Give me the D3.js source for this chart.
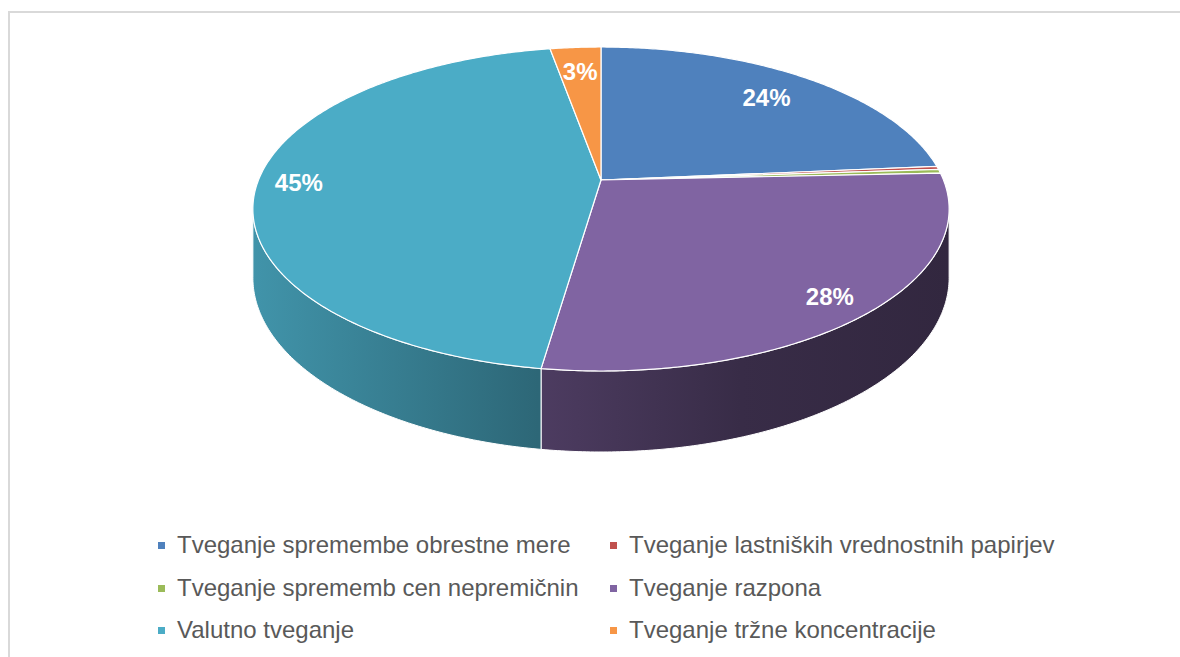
<!DOCTYPE html>
<html><head><meta charset="utf-8">
<script src="https://cdn.jsdelivr.net/npm/d3@7"></script>
<style>body{margin:0;background:#fff}svg{display:block}</style>
</head><body><svg id="c" width="1180" height="657"></svg>
<script>
const categories = ["Tveganje spremembe obrestne mere","Tveganje lastniških vrednostnih papirjev","Tveganje sprememb cen nepremičnin","Tveganje razpona","Valutno tveganje","Tveganje tržne koncentracije"];
const shares = [23.6, 0.3, 0.4, 28.0, 44.9, 2.8];
const colors = ["#4F81BD","#C0504D","#9BBB59","#8064A2","#4BACC6","#F79646"];

const svg = d3.select("#c");
svg.append("rect").attr("x",9).attr("y",12).attr("width",1200).attr("height",700)
  .attr("fill","#fff").attr("stroke","#d9d9d9").attr("stroke-width",2);

// perspective projection of a tilted disk
const cx=601, cy=180, A=342.5, B=156.8, K=0.179, D=66.5;
function proj(theta, r, drop){
  const u=r*Math.sin(theta), v=r*Math.cos(theta), w=1+K*v;
  return [cx + A*u/w, cy - B*v/w + (drop ? D/w : 0)];
}
const total = d3.sum(shares);
const arcs = d3.pie().sort(null).value(d=>d)(shares);
const line = d3.line();
function arcPts(a0,a1,r,drop){
  const n=Math.max(2,Math.ceil((a1-a0)/0.01));
  return d3.range(n+1).map(i=>proj(a0+(a1-a0)*i/n,r,drop));
}

const defs = svg.append("defs");
// side walls (front half only)
const th1 = Math.acos(-K), th2 = 2*Math.PI - Math.acos(-K);
const gSide = svg.append("g");
arcs.forEach((a,i)=>{
  const lo=Math.max(a.startAngle,th1), hi=Math.min(a.endAngle,th2);
  if(lo>=hi) return;
  const base=d3.rgb(colors[i]);
  const sh=f=>d3.rgb(base.r*f,base.g*f,base.b*f).formatHex();
  const gr=defs.append("linearGradient").attr("id","gs"+i).attr("gradientUnits","userSpaceOnUse")
    .attr("x1",cx-A*1.02).attr("x2",cx+A*1.02).attr("y1",0).attr("y2",0);
  [[0,0.86],[0.41,0.6],[0.7,0.44],[1,0.39]].forEach(s=>gr.append("stop").attr("offset",s[0]).attr("stop-color",sh(s[1])));
  const pts=arcPts(lo,hi,1,false).concat(arcPts(lo,hi,1,true).reverse());
  gSide.append("path").attr("d",line(pts)+"Z").attr("fill","url(#gs"+i+")")
    .attr("stroke","#fff").attr("stroke-width",1);
});
// top faces
const gTop = svg.append("g");
arcs.forEach((a,i)=>{
  const pts=[proj(0,0,false)].concat(arcPts(a.startAngle,a.endAngle,1,false));
  gTop.append("path").attr("d",line(pts)+"Z").attr("fill",colors[i])
    .attr("stroke","#fff").attr("stroke-width",1.2).attr("stroke-linejoin","round");
});
// labels
arcs.forEach((a,i)=>{
  const pct=Math.round(shares[i]/total*100);
  if(pct<1) return;
  const mid=(a.startAngle+a.endAngle)/2;
  const r=Math.cos(mid)>0?0.79:0.88;
  const p=proj(mid,r,false);
  svg.append("text").attr("x",p[0]).attr("y",p[1]).attr("dy","0.36em")
    .attr("text-anchor","middle").attr("fill","#fff")
    .style("font","bold 24px 'Liberation Sans', Arial, sans-serif").text(pct+"%");
});
// legend
const colX=[158,610], rowY=[553,596,638];
const lg=svg.append("g");
categories.forEach((c,i)=>{
  const x=colX[i%2], y=rowY[Math.floor(i/2)];
  lg.append("rect").attr("x",x).attr("y",y-11).attr("width",7).attr("height",7).attr("fill",colors[i]);
  lg.append("text").attr("x",x+19).attr("y",y).attr("fill","#595959")
    .style("font","24px 'Liberation Sans', Arial, sans-serif").text(c);
});
</script></body></html>
